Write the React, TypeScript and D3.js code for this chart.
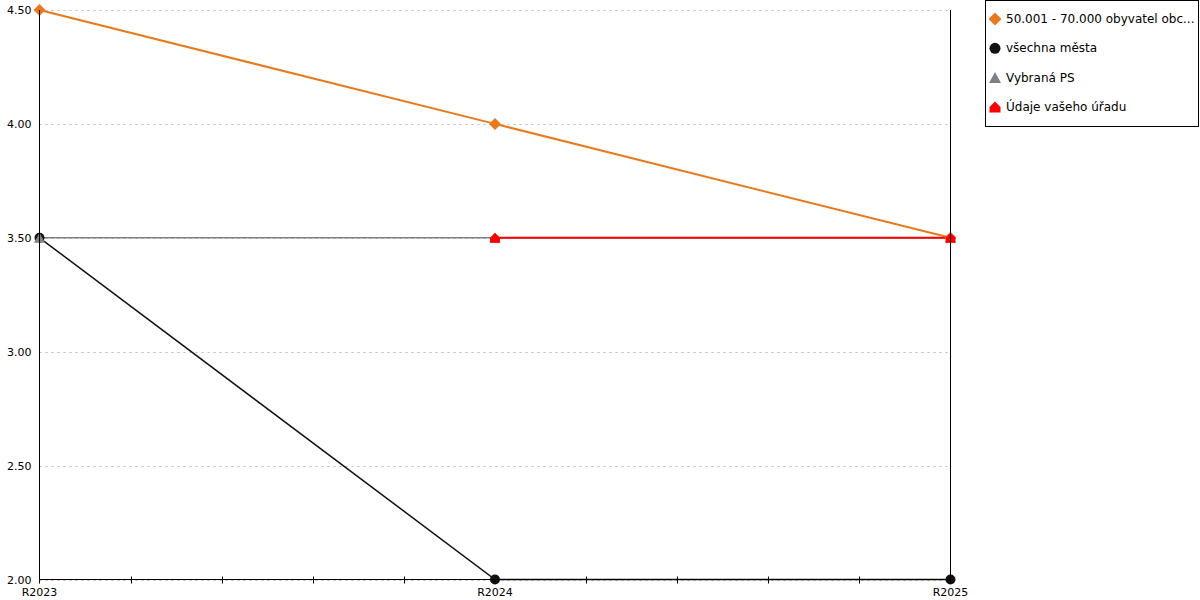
import React from "react";
import * as d3 from "d3";

const categories = ["R2023", "R2024", "R2025"];
const yTicks = [2.0, 2.5, 3.0, 3.5, 4.0, 4.5];
const seriesNames = ["50.001 - 70.000 obyvatel obc...", "všechna města", "Vybraná PS", "Údaje vašeho úřadu"];
const orangeValues: (number | null)[] = [4.5, 4.0, 3.5];
const blackValues: (number | null)[] = [3.5, 2.0, 2.0];
const grayValues: (number | null)[] = [3.5, 3.5, 3.5];
const redValues: (number | null)[] = [null, 3.5, 3.5];

const W = 1200, H = 600;
const left = 39.5, right = 950.5, top = 10, bottom = 579.5;
const FONT = "DejaVu Sans, sans-serif";

function house(cx: number, cy: number, s: number) {
  return `M${cx - s},${cy + s} L${cx - s},${cy} L${cx},${cy - s} L${cx + s},${cy} L${cx + s},${cy + s} Z`;
}

export default function App() {
  const x = d3.scalePoint<string>().domain(categories).range([left, right]);
  const y = d3.scaleLinear().domain([2, 4.5]).range([bottom, top]);
  const step = (x(categories[1])! - x(categories[0])!) / 5;
  const minor: number[] = [];
  for (let i = 0; i < categories.length - 1; i++) {
    for (let j = 1; j < 5; j++) minor.push(x(categories[i])! + j * step);
  }
  const lineGen = d3
    .line<number | null>()
    .defined((d) => d !== null)
    .x((_, i) => x(categories[i])!)
    .y((d) => y(d as number));

  const series = [
    { name: seriesNames[1], values: blackValues, color: "#111111", width: 1.5, marker: "circle" },
    { name: seriesNames[2], values: grayValues, color: "#808080", width: 1.5, marker: "triangle" },
    { name: seriesNames[0], values: orangeValues, color: "#e8791c", width: 2, marker: "diamond" },
    { name: seriesNames[3], values: redValues, color: "#ff0000", width: 2, marker: "house" },
  ];

  const marker = (m: string, cx: number, cy: number, color: string, key: string, s = 5) => {
    if (m === "circle") return <circle key={key} cx={cx} cy={cy} r={s} fill={color} />;
    if (m === "diamond")
      return <path key={key} d={`M${cx},${cy - s - 1} L${cx + s + 1},${cy} L${cx},${cy + s + 1} L${cx - s - 1},${cy} Z`} fill={color} />;
    if (m === "triangle")
      return <path key={key} d={`M${cx},${cy - s} L${cx + s + 0.5},${cy + s} L${cx - s - 0.5},${cy + s} Z`} fill={color} />;
    return <path key={key} d={house(cx, cy, s)} fill={color} />;
  };

  const legendItems = [
    { name: seriesNames[0], color: "#e8791c", marker: "diamond" },
    { name: seriesNames[1], color: "#111111", marker: "circle" },
    { name: seriesNames[2], color: "#808080", marker: "triangle" },
    { name: seriesNames[3], color: "#ff0000", marker: "house" },
  ];

  return (
    <svg width={W} height={H} style={{ position: "absolute", left: 0, top: 0 }} fontFamily={FONT}>
      <rect width={W} height={H} fill="#fff" />
      {yTicks.map((t) => (
        <line key={"g" + t} x1={left} x2={right} y1={Math.round(y(t)) + 0.5} y2={Math.round(y(t)) + 0.5} stroke="#bbb" strokeDasharray="2,4" strokeWidth={1} />
      ))}
      {series.map((s) => (
        <path key={s.name} d={lineGen(s.values) || ""} fill="none" stroke={s.color} strokeWidth={s.width} />
      ))}
      {series.map((s) =>
        s.values.map((v, i) => (v === null ? null : marker(s.marker, x(categories[i])!, y(v), s.color, s.name + i)))
      )}
      <line x1={left} x2={left} y1={top} y2={bottom} stroke="#000" />
      <line x1={right} x2={right} y1={top} y2={bottom} stroke="#000" />
      <line x1={left} x2={right} y1={bottom} y2={bottom} stroke="#000" />
      {minor.map((m) => (
        <line key={"m" + m} x1={Math.round(m) + 0.5} x2={Math.round(m) + 0.5} y1={bottom - 3} y2={bottom + 4} stroke="#000" />
      ))}
      {categories.map((c) => (
        <g key={c}>
          <line x1={x(c)!} x2={x(c)!} y1={bottom} y2={bottom + 4} stroke="#000" />
          <text x={x(c)!} y={bottom + 16} textAnchor="middle" fontSize={11} fill="#000">{c}</text>
        </g>
      ))}
      {yTicks.map((t) => (
        <text key={"t" + t} x={left - 8} y={y(t) + 4} textAnchor="end" fontSize={11} fill="#000">{t.toFixed(2)}</text>
      ))}
      <rect x={985.5} y={0.5} width={213} height={126} fill="#fff" stroke="#000" />
      {legendItems.map((it, i) => (
        <g key={it.name}>
          {marker(it.marker, 995, 19 + i * 29.3, it.color, "l" + i, 5.5)}
          <text x={1006} y={23 + i * 29.3} fontSize={12} fill="#000">{it.name}</text>
        </g>
      ))}
    </svg>
  );
}
